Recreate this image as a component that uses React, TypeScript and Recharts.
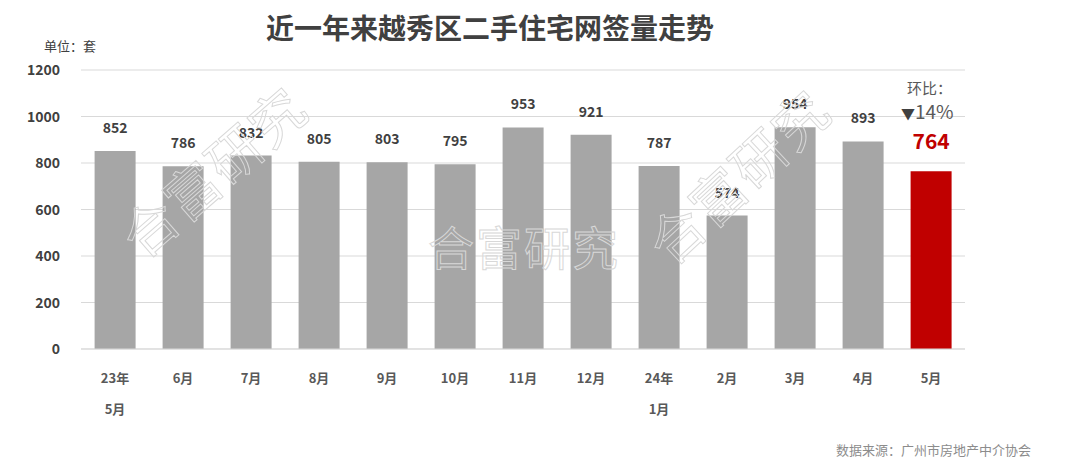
import { BarChart, Bar, XAxis, YAxis, CartesianGrid, Cell, LabelList } from "recharts";

const months = ["23年", "6月", "7月", "8月", "9月", "10月", "11月", "12月", "24年", "2月", "3月", "4月", "5月"];
const monthsLine2 = ["5月", "", "", "", "", "", "", "", "1月", "", "", "", ""];
const volumes = [852, 786, 832, 805, 803, 795, 953, 921, 787, 574, 954, 893, 764];
const yTicks = [0, 200, 400, 600, 800, 1000, 1200];

const FONT = '"Noto Sans CJK SC", "Noto Sans", sans-serif';

const XTick = (props: any) => {
  const { x, payload } = props;
  const i = payload.index;
  return (
    <g>
      <text x={x} y={383} textAnchor="middle" fontSize={13} fontWeight={600} fill="#595959" fontFamily={FONT}>
        {months[i]}
      </text>
      {monthsLine2[i] ? (
        <text x={x} y={414} textAnchor="middle" fontSize={13} fontWeight={600} fill="#595959" fontFamily={FONT}>
          {monthsLine2[i]}
        </text>
      ) : null}
    </g>
  );
};

const YTick = (props: any) => {
  const { y, payload } = props;
  return (
    <text x={60} y={y + 5} textAnchor="end" fontSize={14} fontWeight={600} fill="#404040" fontFamily={FONT}>
      {payload.value}
    </text>
  );
};

const ValueLabel = (props: any) => {
  const { x, y, width, value, index } = props;
  const last = index === volumes.length - 1;
  if (last) {
    return (
      <text x={x + width / 2} y={y - 22} textAnchor="middle" fontSize={21} fontWeight={700} fill="#c00000" fontFamily={FONT}>
        {value}
      </text>
    );
  }
  return (
    <text x={x + width / 2} y={y - 18} textAnchor="middle" fontSize={14} fontWeight={600} fill="#404040" fontFamily={FONT}>
      {value}
    </text>
  );
};

const data = months.map((m, i) => ({ month: m, value: volumes[i] }));

const wm: React.CSSProperties = {
  position: "absolute",
  fontFamily: FONT,
  fontSize: 46,
  color: "transparent",
  WebkitTextStroke: "1px #d8d8d8",
  whiteSpace: "nowrap",
  pointerEvents: "none",
  letterSpacing: 2,
};

export default function App() {
  return (
    <div style={{ position: "absolute", left: 0, top: 0, width: 1080, height: 472, background: "#fff", fontFamily: FONT }}>
      <div style={{ position: "absolute", left: 0, width: 980, top: 7, textAlign: "center", fontSize: 28, fontWeight: 700, color: "#404040" }}>
        近一年来越秀区二手住宅网签量走势
      </div>
      <div style={{ position: "absolute", left: 44, top: 36, fontSize: 13, color: "#404040" }}>单位：套</div>
      <BarChart width={1080} height={472} data={data} margin={{ top: 70, right: 115, left: 0, bottom: 0 }} barCategoryGap="20%">
        <CartesianGrid vertical={false} stroke="#d9d9d9" />
        <XAxis dataKey="month" height={123} axisLine={{ stroke: "#d9d9d9" }} tickLine={false} tick={<XTick />} interval={0} />
        <YAxis width={81} domain={[0, 1200]} ticks={yTicks} axisLine={false} tickLine={false} tick={<YTick />} />
        <Bar dataKey="value" isAnimationActive={false}>
          {data.map((d, i) => (
            <Cell key={d.month + i} fill={i === volumes.length - 1 ? "#c00000" : "#a6a6a6"} />
          ))}
          <LabelList dataKey="value" content={<ValueLabel />} />
        </Bar>
      </BarChart>
      <div style={{ position: "absolute", left: 907, top: 79, fontSize: 15, lineHeight: "18px", color: "#595959" }}>环比：</div>
      <div style={{ position: "absolute", left: 901, top: 100, fontSize: 19, lineHeight: "22px", color: "#595959" }}>
        <span style={{ fontSize: 14, color: "#404040" }}>▼</span>14%
      </div>
      <div style={{ ...wm, left: 428, top: 212 }}>合富研究</div>
      <div style={{ ...wm, fontSize: 54, left: 100, top: 130, transform: "rotate(-41deg)" }}>合富研究</div>
      <div style={{ ...wm, fontSize: 54, left: 625, top: 135, transform: "rotate(-43deg)" }}>合富研究</div>
      <div style={{ position: "absolute", left: 836, top: 440, fontSize: 13, color: "#8c8c8c" }}>数据来源：广州市房地产中介协会</div>
    </div>
  );
}
